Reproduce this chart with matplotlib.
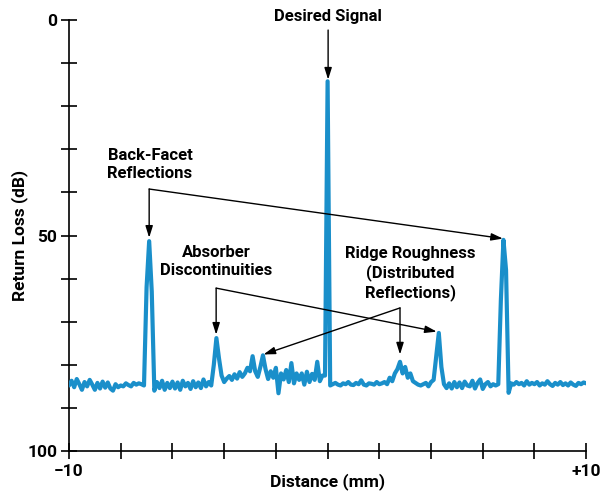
import numpy as np
import matplotlib
matplotlib.use("Agg")
import matplotlib.pyplot as plt
from matplotlib.ticker import FixedLocator

plt.rcParams['font.family'] = ['Roboto', 'DejaVu Sans']

# Return loss trace, one sample every 0.1 mm from -10 mm to +10 mm
distance = np.linspace(-10, 10, 201)
return_loss = [
    84.8, 83.7, 85.2, 83.3, 84.5, 85.8, 84.0, 85.0, 83.5, 84.6,   # -10.0 .. -9.1
    85.8, 84.2, 85.5, 83.9, 85.3, 84.1, 85.5, 86.0, 84.5, 85.2,   # -9.0 .. -8.1
    84.8, 85.0, 84.3, 84.7, 85.0, 84.2, 84.6, 84.3, 84.5, 84.8,   # -8.0 .. -7.1
    62.0, 51.3, 63.0, 86.0, 84.0, 85.4, 83.7, 85.8, 84.2, 85.4,   # -7.0 .. -6.1
    83.9, 85.5, 84.1, 85.8, 83.7, 85.0, 84.2, 85.6, 83.8, 85.2,   # -6.0 .. -5.1
    84.1, 85.4, 83.4, 85.0, 84.0, 84.8, 80.0, 73.8, 78.5, 82.5,   # -5.0 .. -4.1
    84.0, 83.2, 82.6, 83.5, 82.2, 83.2, 81.7, 82.8, 82.0, 80.7,   # -4.0 .. -3.1
    81.5, 78.0, 81.5, 82.8, 80.5, 77.8, 81.0, 83.3, 81.5, 83.0,   # -3.0 .. -2.1
    80.7, 86.6, 82.0, 83.4, 81.2, 84.0, 79.6, 84.3, 82.0, 83.5,   # -2.0 .. -1.1
    82.0, 84.6, 81.6, 84.0, 82.1, 83.5, 79.3, 83.8, 82.5, 82.5,   # -1.0 .. -0.1
    14.2, 84.8, 84.5, 84.2, 84.6, 84.8, 84.3, 84.5, 84.0, 84.6,   # 0.0 .. 0.9
    84.7, 84.2, 84.5, 83.6, 84.6, 84.8, 84.3, 84.4, 84.6, 84.0,   # 1.0 .. 1.9
    84.5, 84.3, 84.0, 84.5, 83.0, 83.8, 82.0, 81.0, 79.3, 82.0,   # 2.0 .. 2.9
    80.5, 83.0, 82.0, 83.8, 84.2, 84.6, 84.8, 84.5, 84.2, 85.0,   # 3.0 .. 3.9
    84.0, 83.5, 78.0, 72.6, 80.5, 84.5, 85.4, 84.3, 85.5, 84.0,   # 4.0 .. 4.9
    85.2, 84.1, 85.4, 83.9, 84.8, 85.0, 83.7, 85.5, 84.2, 83.4,   # 5.0 .. 5.9
    85.6, 84.5, 84.0, 85.0, 84.5, 84.8, 84.5, 65.0, 51.0, 58.0,   # 6.0 .. 6.9
    86.5, 84.3, 84.6, 84.0, 84.5, 84.2, 84.8, 83.8, 84.6, 84.2,   # 7.0 .. 7.9
    84.5, 84.0, 84.8, 84.3, 84.6, 83.8, 84.5, 84.9, 84.2, 84.6,   # 8.0 .. 8.9
    84.0, 84.7, 84.3, 84.8, 84.1, 84.6, 84.9, 84.2, 84.5, 84.1,   # 9.0 .. 9.9
    84.3,                                                         # 10.0
]

x_ticks = [-10, -8, -6, -4, -2, 0, 2, 4, 6, 8, 10]
x_tick_labels = ["\u221210", "", "", "", "", "", "", "", "", "", "+10"]
y_major = [0, 50, 100]
y_minor = [10, 20, 30, 40, 60, 70, 80, 90]

trace_color = "#1a8fca"

fig = plt.figure(figsize=(6.0, 4.91), dpi=100)
ax = fig.add_axes([0.115, 0.0815, 0.862, 0.8775])

ax.plot(distance, return_loss, color=trace_color, lw=3.0,
        solid_joinstyle="round", solid_capstyle="round", zorder=3)

ax.set_xlim(-10, 10)
ax.set_ylim(100, 0)
for side in ("top", "right"):
    ax.spines[side].set_visible(False)
for side in ("left", "bottom"):
    ax.spines[side].set_linewidth(1.2)
    ax.spines[side].set_color("black")

ax.set_xticks(x_ticks)
ax.set_xticklabels(x_tick_labels)
ax.set_yticks(y_major)
ax.set_yticklabels([str(v) for v in y_major])
ax.yaxis.set_minor_locator(FixedLocator(y_minor))
ax.tick_params(axis="both", which="both", direction="inout", length=11,
               width=1.2, color="black")
ax.tick_params(axis="both", labelsize=12.5)
for lbl in ax.get_xticklabels() + ax.get_yticklabels():
    lbl.set_fontweight("bold")
ax.tick_params(axis="y", pad=3)
ax.tick_params(axis="x", pad=4)

ax.set_xlabel("Distance (mm)", fontsize=12.5, fontweight="bold", va="center")
ax.xaxis.set_label_coords(0.5, -0.072)
ax.set_ylabel("Return Loss (dB)", fontsize=12.5, fontweight="bold", va="center")
ax.yaxis.set_label_coords(-0.095, 0.5)

text_kw = dict(fontsize=12, fontweight="bold", ha="center", va="center",
               linespacing=1.25, zorder=5)
arrow_kw = dict(arrowstyle="-|>,head_length=0.7,head_width=0.22", color="black",
                lw=1.0, shrinkA=0, shrinkB=0)


def arrow(tail, tip):
    ax.annotate("", xy=tip, xytext=tail, arrowprops=arrow_kw, zorder=4)


# Desired signal
ax.text(0.02, -0.8, "Desired Signal", **text_kw)
arrow((0.02, 2.3), (0.02, 13.8))

# Back-facet reflections
ax.text(-6.87, 33.4, "Back-Facet\nReflections", **text_kw)
bf_corner = (-6.9, 39.2)
arrow(bf_corner, (-6.9, 50.5))
arrow(bf_corner, (6.78, 50.7))

# Absorber discontinuities
ax.text(-4.31, 56.0, "Absorber\nDiscontinuities", **text_kw)
ab_corner = (-4.31, 62.2)
arrow(ab_corner, (-4.31, 73.0))
arrow(ab_corner, (4.22, 72.3))

# Ridge roughness
ax.text(3.19, 58.8, "Ridge Roughness\n(Distributed\nReflections)", **text_kw)
rr_corner = (2.80, 66.8)
arrow(rr_corner, (2.80, 77.6))
arrow(rr_corner, (-2.48, 77.6))

fig.savefig("out.png", dpi=100)
